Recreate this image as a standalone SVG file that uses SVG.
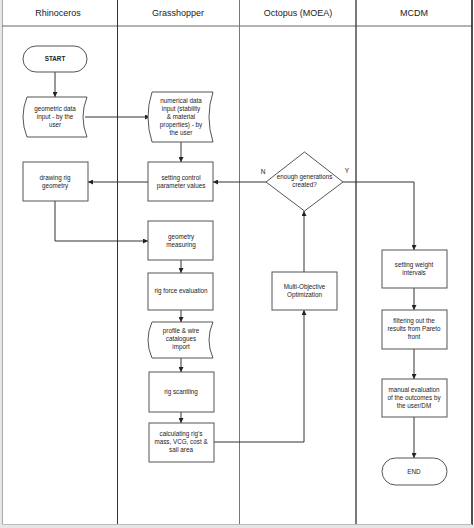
<svg xmlns="http://www.w3.org/2000/svg" width="474" height="528" viewBox="0 0 474 528">
<defs>
<marker id="ah" viewBox="0 0 10 10" refX="10" refY="5" markerWidth="5" markerHeight="5" orient="auto" markerUnits="userSpaceOnUse">
<path d="M0,0 L10,5 L0,10 Z" fill="#222"/>
</marker>
<style>
.frame{fill:none;stroke:#333;stroke-width:1}
.box{fill:#fff;stroke:#555;stroke-width:1}
.c{fill:none;stroke:#333;stroke-width:1;marker-end:url(#ah)}
.ln{fill:none;stroke:#333;stroke-width:1}
.t{font-family:"Liberation Sans",Arial,sans-serif;font-size:6.3px;fill:#222;text-anchor:middle}
.h{font-family:"Liberation Sans",Arial,sans-serif;font-size:9px;fill:#222;text-anchor:middle}
</style>
</defs>
<rect x="0" y="0" width="474" height="528" fill="#fff"/>
<rect x="0" y="0" width="2" height="528" fill="#e6e6e6"/>
<rect x="0" y="525" width="474" height="3" fill="#e6e6e6"/>
<g id="lanes">
<line x1="2.5" y1="0" x2="2.5" y2="525" stroke="#aaa" stroke-width="1"/>
<line x1="2" y1="26" x2="472" y2="26" stroke="#666" stroke-width="1"/>
<line x1="117.5" y1="0" x2="117.5" y2="525" class="frame"/>
<line x1="239.5" y1="0" x2="239.5" y2="525" stroke="#777" stroke-width="1"/>
<line x1="356" y1="0" x2="356" y2="525" stroke="#333" stroke-width="1.3"/>
<line x1="472" y1="0" x2="472" y2="525" stroke="#222" stroke-width="1.6"/>
<line x1="2" y1="524.5" x2="472" y2="524.5" stroke="#bbb" stroke-width="1"/>
<text class="h" x="58" y="16">Rhinoceros</text>
<text class="h" x="178" y="16">Grasshopper</text>
<text class="h" x="298" y="16">Octopus (MOEA)</text>
<text class="h" x="414" y="16">MCDM</text>
</g>
<g id="connectors">
<path class="c" d="M55,72 V97"/>
<path class="c" d="M85,117 H150"/>
<path class="c" d="M181,142 V162"/>
<path class="c" d="M148,182 H88"/>
<path class="c" d="M266,182 H213"/>
<path class="c" d="M55,201 V241 H148"/>
<path class="c" d="M181,260 V273"/>
<path class="c" d="M181,310 V322"/>
<path class="c" d="M181,358 V372"/>
<path class="c" d="M181,412 V423"/>
<path class="c" d="M214,442 H304 V310"/>
<path class="c" d="M304,272 V211"/>
<path class="c" d="M343,182 H414 V250"/>
<path class="c" d="M414,288 V310"/>
<path class="c" d="M414,349 V379"/>
<path class="c" d="M414,417 V458"/>
<text class="t" x="263" y="174" style="font-size:6.5px">N</text>
<text class="t" x="347" y="173" style="font-size:6.5px">Y</text>
</g>
<g id="start">
<rect class="box" x="23" y="46" width="64" height="26" rx="13"/>
<text class="t" x="55" y="61" style="font-weight:bold">START</text>
</g>
<g id="geometric-data">
<path class="box" d="M27,97 H87 Q79,117 87,137 H27 Q19,117 27,97 Z"/>
<text class="t" x="55" y="111">geometric data</text>
<text class="t" x="55" y="119">input - by the</text>
<text class="t" x="55" y="127">user</text>
</g>
<g id="numerical-data">
<path class="box" d="M152,92 H213 Q205,117 213,142 H152 Q144,117 152,92 Z"/>
<text class="t" x="181" y="103">numerical data</text>
<text class="t" x="181" y="111">input (stability</text>
<text class="t" x="181" y="119">&amp; material</text>
<text class="t" x="181" y="127">properties) - by</text>
<text class="t" x="181" y="135">the user</text>
</g>
<g id="drawing-rig">
<rect class="box" x="23" y="162" width="65" height="39"/>
<text class="t" x="55" y="180">drawing rig</text>
<text class="t" x="55" y="188">geometry</text>
</g>
<g id="setting-control">
<rect class="box" x="148" y="162" width="65" height="39"/>
<text class="t" x="181" y="180">setting control</text>
<text class="t" x="181" y="188">parameter values</text>
</g>
<g id="geometry-measuring">
<rect class="box" x="148" y="221" width="65" height="39"/>
<text class="t" x="181" y="239">geometry</text>
<text class="t" x="181" y="247">measuring</text>
</g>
<g id="rig-force">
<rect class="box" x="148" y="273" width="65" height="37"/>
<text class="t" x="181" y="293">rig force evaluation</text>
</g>
<g id="profile-wire">
<path class="box" d="M152,322 H213 Q205,340 213,358 H152 Q144,340 152,322 Z"/>
<text class="t" x="181" y="333">profile &amp; wire</text>
<text class="t" x="181" y="341">catalogues</text>
<text class="t" x="181" y="349">import</text>
</g>
<g id="rig-scantling">
<rect class="box" x="149" y="372" width="65" height="40"/>
<text class="t" x="181" y="394">rig scantling</text>
</g>
<g id="calculating">
<rect class="box" x="149" y="423" width="65" height="39"/>
<text class="t" x="181" y="436">calculating rig's</text>
<text class="t" x="181" y="444">mass, VCG, cost &amp;</text>
<text class="t" x="181" y="452">sail area</text>
</g>
<g id="decision">
<path class="box" d="M304.5,152 L343,182 L304.5,211 L266,182 Z"/>
<text class="t" x="304.5" y="179">enough generations</text>
<text class="t" x="304.5" y="187">created?</text>
</g>
<g id="moo">
<rect class="box" x="272" y="272" width="65" height="38"/>
<text class="t" x="304.5" y="289">Multi-Objective</text>
<text class="t" x="304.5" y="297">Optimization</text>
</g>
<g id="weights">
<rect class="box" x="382" y="250" width="65" height="38"/>
<text class="t" x="414" y="267">setting weight</text>
<text class="t" x="414" y="275">intervals</text>
</g>
<g id="filtering">
<rect class="box" x="382" y="310" width="65" height="39"/>
<text class="t" x="414" y="323">filtering out the</text>
<text class="t" x="414" y="331">results from Pareto</text>
<text class="t" x="414" y="339">front</text>
</g>
<g id="manual">
<rect class="box" x="382" y="379" width="65" height="38"/>
<text class="t" x="414" y="392">manual evaluation</text>
<text class="t" x="414" y="400">of the outcomes by</text>
<text class="t" x="414" y="408">the user/DM</text>
</g>
<g id="end">
<rect class="box" x="382" y="458" width="65" height="27" rx="13.5"/>
<text class="t" x="414" y="474">END</text>
</g>
</svg>
